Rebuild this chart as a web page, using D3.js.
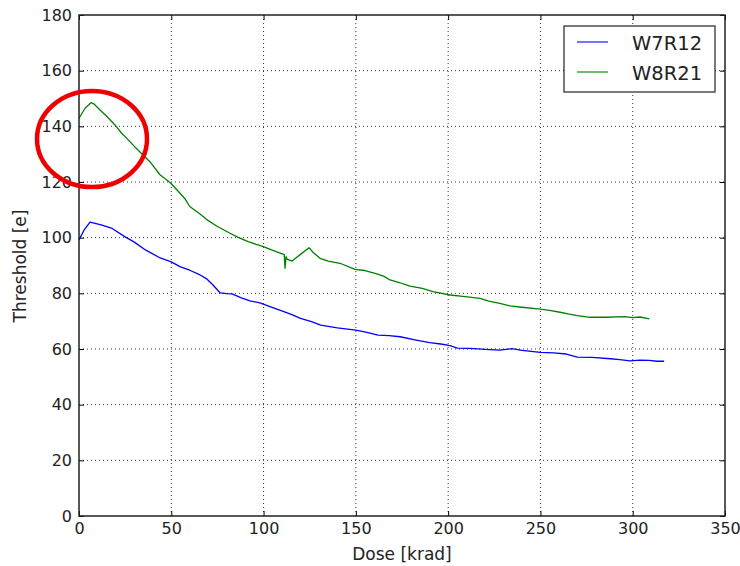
<!DOCTYPE html>
<html><head><meta charset="utf-8">
<script src="https://cdn.jsdelivr.net/npm/d3@7"></script>
<style>body{margin:0;background:#fff}svg{display:block}text{font-family:"DejaVu Sans",sans-serif;fill:#222}</style>
</head><body><svg id="c" width="740" height="566"></svg>
<script>
const xTicks = [0,50,100,150,200,250,300,350];
const yTicks = [0,20,40,60,80,100,120,140,160,180];
const seriesNames = ["W7R12","W8R21"];
const seriesColors = ["#0000ff","#008000"];
const doseW7R12 = [0,3,6,12,18,25,30,36,44,50,54.7,60,65.6,69,72.6,76.4,80,82.9,88,92.6,98,105,111,116,120,126,131,140,150,156,162,168,174,182,190,196,201,205,212,220,228,234.6,240,250,257,264,270,278,288,293,298.5,304,309,313,317];
const thrW7R12  = [99.2,103,105.6,104.6,103.3,100.3,98.4,95.6,92.7,91.3,89.6,88.3,86.6,85.3,83.0,80.2,79.9,79.8,78.4,77.3,76.6,74.9,73.4,72.2,71,69.8,68.6,67.6,66.8,66,65,64.8,64.4,63.3,62.3,61.8,61.2,60.3,60.2,59.9,59.6,60.1,59.5,58.8,58.6,58.2,57.1,57,56.5,56.2,55.7,56,55.9,55.6,55.6];
const doseW8R21 = [0,3.3,6.5,8,11.4,15,19.5,23,27.6,31,34.7,38.5,43.9,49.3,54,57.4,60,65.6,69.4,75,81.8,86,91.6,96,99.9,105,111.2,111.6,112.2,112.7,115.4,120,124.6,127,130.6,135,141.4,149.5,155,160.4,165,168.5,174,179.3,186,191.8,201,208,217.3,222,228,233.5,240,249.8,255,260.6,265,270,276.9,285,295.8,300,304,309];
const thrW8R21  = [142.9,146.5,148.5,148.1,145.9,143.6,140.5,137.6,134.5,132.1,129.7,127.2,122.6,119.8,116.5,114,111.2,108.5,106.4,104,101.6,100.2,98.6,97.6,96.8,95.4,93.9,89,93.2,92.3,91.6,94,96.4,94.6,92.6,91.6,90.8,88.6,88.2,87.2,86.2,84.8,83.8,82.6,81.8,80.6,79.4,78.9,78.2,77.2,76.4,75.5,75,74.3,73.9,73.2,72.6,72,71.4,71.4,71.6,71.3,71.5,70.8];

const svg = d3.select("#c");
const L=79, R=725, T=15, B=516;
const x = d3.scaleLinear().domain([0,350]).range([L,R]);
const y = d3.scaleLinear().domain([0,180]).range([B,T]);

// grid
const g = svg.append("g");
g.selectAll(".gx").data(xTicks.slice(1,-1)).enter().append("line")
 .attr("x1",d=>x(d)).attr("x2",d=>x(d)).attr("y1",T).attr("y2",B)
 .attr("stroke","#000").attr("stroke-width",0.8).attr("stroke-dasharray","1,3");
g.selectAll(".gy").data(yTicks.slice(1,-1)).enter().append("line")
 .attr("y1",d=>y(d)).attr("y2",d=>y(d)).attr("x1",L).attr("x2",R)
 .attr("stroke","#000").attr("stroke-width",0.8).attr("stroke-dasharray","1,3");

// lines
const line = d3.line().x(d=>x(d[0])).y(d=>y(d[1]));
const data = [d3.zip(doseW7R12,thrW7R12), d3.zip(doseW8R21,thrW8R21)];
data.forEach((d,i)=>{
  svg.append("path").datum(d).attr("d",line).attr("fill","none")
   .attr("stroke",seriesColors[i]).attr("stroke-width",1.3).attr("stroke-linejoin","round");
});

// axes (ticks inside, all four sides)
const styleText = s=>s.selectAll("text").attr("font-size",16).attr("font-family","DejaVu Sans").attr("fill","#222");
svg.append("g").attr("transform",`translate(0,${B})`).call(d3.axisBottom(x).tickValues(xTicks).tickSize(-5).tickPadding(7))
  .call(s=>{s.select(".domain").remove(); styleText(s);});
svg.append("g").attr("transform",`translate(0,${T})`).call(d3.axisTop(x).tickValues(xTicks).tickSize(-5).tickFormat(""))
  .call(s=>s.select(".domain").remove());
svg.append("g").attr("transform",`translate(${L},0)`).call(d3.axisLeft(y).tickValues(yTicks).tickSize(-5).tickPadding(7))
  .call(s=>{s.select(".domain").remove(); styleText(s);});
svg.append("g").attr("transform",`translate(${R},0)`).call(d3.axisRight(y).tickValues(yTicks).tickSize(-5).tickFormat(""))
  .call(s=>s.select(".domain").remove());
svg.append("rect").attr("x",L).attr("y",T).attr("width",R-L).attr("height",B-T)
  .attr("fill","none").attr("stroke","#222").attr("stroke-width",1.5);

// axis labels
svg.append("text").attr("x",(L+R)/2).attr("y",560).attr("text-anchor","middle").attr("font-size",17).text("Dose [krad]");
svg.append("text").attr("transform","translate(26,266) rotate(-90)").attr("text-anchor","middle").attr("font-size",17).text("Threshold [e]");

// legend
const lg = svg.append("g");
lg.append("rect").attr("x",564).attr("y",26).attr("width",151).attr("height",66).attr("fill","#fff").attr("stroke","#222").attr("stroke-width",1.2);
seriesNames.forEach((n,i)=>{
  const yy = 42 + i*30;
  lg.append("line").attr("x1",577).attr("x2",608).attr("y1",yy).attr("y2",yy).attr("stroke",seriesColors[i]).attr("stroke-width",1.1);
  lg.append("text").attr("x",632).attr("y",yy+7.5).attr("font-size",19.5).text(n);
});

// red annotation ellipse
svg.append("ellipse").attr("cx",92).attr("cy",139).attr("rx",55).attr("ry",48)
  .attr("fill","none").attr("stroke","#ee0000").attr("stroke-width",4.5);
</script></body></html>
